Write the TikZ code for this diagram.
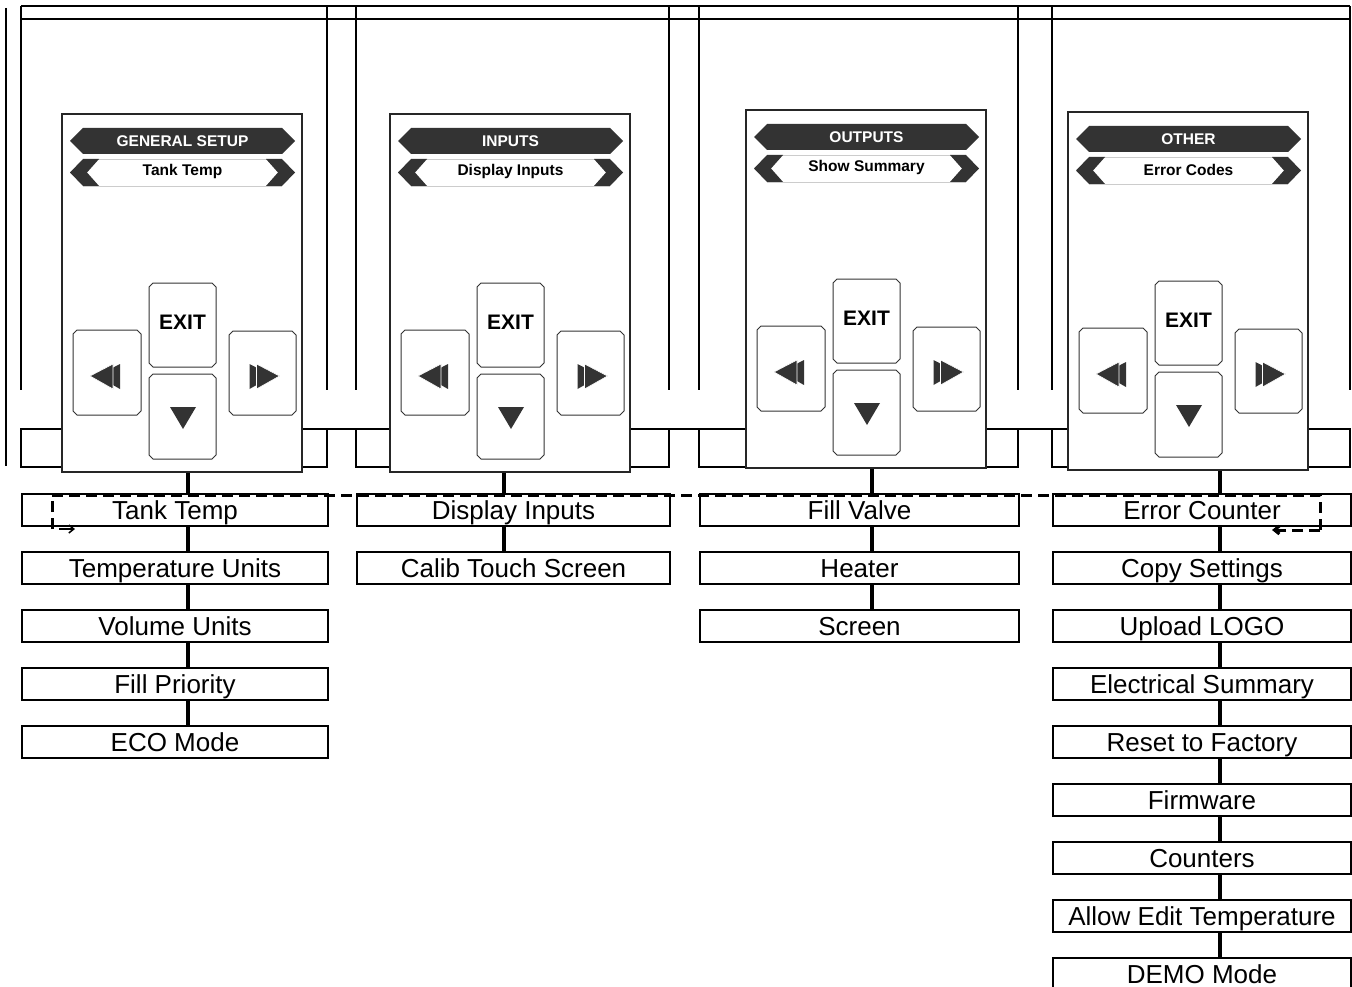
\documentclass[tikz,border=0pt]{standalone}
\usepackage{fontspec}
\setmainfont{Liberation Sans}
\usetikzlibrary{arrows.meta}
\tikzset{
  struct/.style={line width=2pt},
  panelbox/.style={draw=black!85, line width=1.6pt, fill=white, minimum width=240pt, minimum height=358pt, inner sep=0pt, anchor=north west},
  btn/.style={draw=black!80, line width=1pt, fill=white},
  btntext/.style={font=\bfseries\fontsize{21}{24}\selectfont, inner sep=0pt},
  hdr/.style={fill=black!80},
  hdrtext/.style={font=\bfseries\fontsize{15.5}{18}\selectfont, inner sep=0pt},
  menu/.style={draw, line width=2pt, minimum height=32pt, inner sep=0pt, anchor=north west, font=\fontsize{26}{30}\selectfont, text height=21pt, text depth=3pt},
  conn/.style={line width=3.2pt},
  flow/.style={line width=3pt, dash pattern=on 11pt off 6pt},
}
% chamfered button: x1 y1 x2 y2
\newcommand\chbtn[4]{%
  \filldraw[btn] ({#1+4},#2) -- ({#3-4},#2) -- (#3,{#2+4}) -- (#3,{#4-4}) -- ({#3-4},#4)
    -- ({#1+4},#4) -- (#1,{#4-4}) -- (#1,{#2+4}) -- cycle;}
\newcommand\panelat[5]{%
\begin{scope}[shift={(#1,#2)}]
  \node[panelbox] (#3) at (0,0) {};
  \fill[hdr] (9,28)--(22,15)--(221,15)--(234,28)--(221,41)--(22,41)--cycle;
  \node[hdrtext, text=white] (#3h) at (121.5,28) {#4};
  \draw[black!20, line width=0.8pt] (22,46)--(221,46) (22,73)--(221,73);
  \fill[hdr] (9,59.5)--(22,46)--(38,46)--(26,59.5)--(38,73)--(22,73)--cycle;
  \fill[hdr] (234,59.5)--(221,46)--(205,46)--(217,59.5)--(205,73)--(221,73)--cycle;
  \node[hdrtext] (#3s) at (121.5,58.5) {#5};
  \chbtn{88}{170}{155}{254}
  \node[btntext] (#3e) at (121.5,209) {EXIT};
  \chbtn{12}{217}{80}{302}
  \chbtn{168}{218}{235}{302}
  \chbtn{88}{261}{155}{346}
  \fill[hdr] (36,263)--(59,251)--(59,276)--cycle;
  \filldraw[hdr, draw=white, line width=0.6pt] (29,263)--(52,251)--(52,276)--cycle;
  \fill[hdr] (188.5,251)--(188.5,276)--(211.5,263)--cycle;
  \filldraw[hdr, draw=white, line width=0.6pt] (195.5,251)--(195.5,276)--(218.5,263)--cycle;
  \fill[hdr] (109,294)--(135,294)--(122,316)--cycle;
\end{scope}}
\begin{document}
\begin{tikzpicture}[x=1pt,y=-1pt]
\useasboundingbox (0,0) rectangle (1352,987);
% structure
\draw[struct] (21,6) -- (1350,6) (21,19) -- (1350,19);
\draw[struct] (6,8) -- (6,466);
\foreach \x in {21,327,356,669,699,1018,1052,1350} \draw[struct] (\x,6) -- (\x,390);
\draw[struct] (21,429) -- (1350,429);
\draw[struct] (21,429) rectangle (327,467) (356,429) rectangle (669,467)
  (699,429) rectangle (1018,467) (1052,429) rectangle (1350,467);
% panels
\panelat{61}{113}{p1}{GENERAL SETUP}{Tank Temp}
\panelat{389}{113}{p2}{INPUTS}{Display Inputs}
\panelat{745}{109}{p3}{OUTPUTS}{Show Summary}
\panelat{1067}{111}{p4}{OTHER}{Error Codes}
% connector columns
\coordinate (k1) at (188,0);
\coordinate (k2) at (504,0);
\coordinate (k3) at (872,0);
\coordinate (k4) at (1220,0);
% menu boxes
\foreach \t [count=\i] in {Tank Temp,Temperature Units,Volume Units,Fill Priority,ECO Mode}
  \node[menu, minimum width=306pt] (a\i) at (21,{493+58*(\i-1)}) {\t};
\foreach \t [count=\i] in {Display Inputs,Calib Touch Screen}
  \node[menu, minimum width=313pt] (b\i) at (356,{493+58*(\i-1)}) {\t};
\foreach \t [count=\i] in {Fill Valve,Heater,Screen}
  \node[menu, minimum width=319pt] (c\i) at (699,{493+58*(\i-1)}) {\t};
\foreach \t [count=\i] in {Error Counter,Copy Settings,Upload LOGO,Electrical Summary,Reset to Factory,Firmware,Counters,Allow Edit Temperature,DEMO Mode}
  \node[menu, minimum width=298pt] (d\i) at (1052,{493+58*(\i-1)}) {\t};
% connectors
\draw[conn] (p1.south -| k1) -- (a1.north -| k1);
\draw[conn] (p2.south -| k2) -- (b1.north -| k2);
\draw[conn] (p3.south -| k3) -- (c1.north -| k3);
\draw[conn] (p4.south -| k4) -- (d1.north -| k4);
\foreach \i in {1,...,4}{\pgfmathtruncatemacro\n{\i+1}\draw[conn] (a\i.south -| k1) -- (a\n.north -| k1);}
\draw[conn] (b1.south -| k2) -- (b2.north -| k2);
\foreach \i in {1,2}{\pgfmathtruncatemacro\n{\i+1}\draw[conn] (c\i.south -| k3) -- (c\n.north -| k3);}
\foreach \i in {1,...,8}{\pgfmathtruncatemacro\n{\i+1}\draw[conn] (d\i.south -| k4) -- (d\n.north -| k4);}
% dashed loop
\coordinate (f1) at (75,529);
\coordinate (f2) at (52,529);
\coordinate (f3) at (52,495);
\coordinate (f4) at (1320,495);
\coordinate (f5) at (1320,530);
\coordinate (f6) at (1272,530);
\draw[flow] (f2) -- (f3) -- (f4) -- (f5);
\draw[line width=1.5pt, -{Straight Barb[length=5pt,width=8pt]}] ([xshift=7pt]f2) -- (f1);
\draw[flow, -{Straight Barb[length=5pt,width=8pt]}] (f5) -- (f6);
\end{tikzpicture}
\end{document}
